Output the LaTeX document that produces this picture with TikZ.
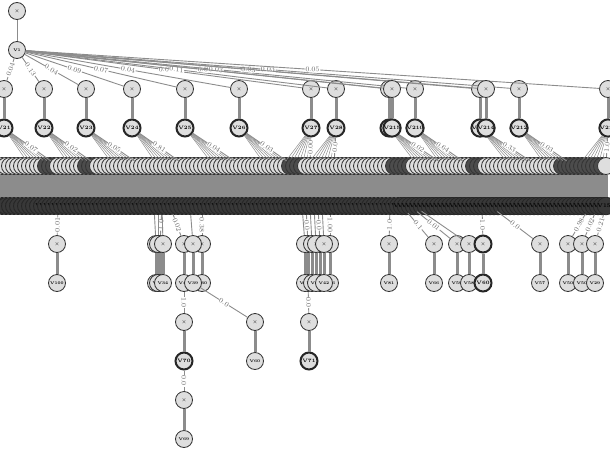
\documentclass[tikz,border=0pt]{standalone}
\usepackage{tikz}
\usetikzlibrary{arrows.meta,positioning,calc}

\begin{document}
\begin{tikzpicture}[
  x=1pt, y=-1pt,
  font=\fontsize{4}{4}\selectfont,
  nd/.style={circle, draw=black!80, fill=black!13, line width=0.8pt, minimum size=17pt, inner sep=0pt},
  dk/.style={nd, draw=black!85, line width=2pt, font=\fontsize{5}{5}\selectfont\bfseries},
  bd/.style={nd, fill=black!70},
  cd/.style={nd, draw=black!85, fill=black!78, font=\fontsize{5.5}{5.5}\selectfont\bfseries},
  ln/.style={draw=black!45, line width=0.9pt},
  tk/.style={draw=black!45, line width=3pt},
  lbl/.style={font=\fontsize{7}{7}\selectfont, text=black!60, fill=white, inner sep=0.6pt, sloped}
]
\useasboundingbox (0,0) rectangle (610,450);

% band of overlapping nodes
\foreach \k in {0,...,151}{
  \pgfmathtruncatemacro\dd{or(or(and(\k>=11,\k<=13),and(\k>=21,\k<=23)),or(or(and(\k>=72,\k<=75),and(\k>=98,\k<=102)),or(and(\k>=118,\k<=120),and(\k>=140,\k<=150))))}
  \ifnum\dd=1
    \node[bd] (b\k) at ({2+4*\k},166) {};
  \else
    \node[nd] (b\k) at ({2+4*\k},166) {};
  \fi
  \node[cd] (c\k) at ({2+4*\k},206) {V\k};
}
\foreach \k in {0,...,151}
  \draw[draw=black!45, line width=4.3pt] (b\k) -- (c\k);

% root
\node[nd] (t) at (17,11) {$\times$};
\node[nd] (a) at (17,50) {\textbf{V1}};
\draw[ln] (t) -- (a);

% first rows
\foreach \xx/\p/\q/\k [count=\i] in {4/0.04/0.07/14, 44/0.13/0.02/24, 86/0.04/0.05/35,
    132/0.09/0.81/46, 185/0.07/0.04/60, 239/0.04/0.03/73, 311/0.0/0.00/77,
    336/0.11/0.0/83, 389/0.0/0.02/111, 415/0.03/0.64/117, 480/0.03/0.33/134,
    519/0.03/0.03/143, 608/0.05/1.0/151}{
  \node[nd] (p\i) at (\xx,89) {$\times$};
  \node[dk] (q\i) at (\xx,128) {V2\i};
  \draw[ln] (a) -- node[lbl] {\p} (p\i);
  \draw[tk] (p\i) -- (q\i);
  \foreach \j in {1,...,7}{
    \pgfmathtruncatemacro\m{\k-\j}
    \draw[draw=black!45, line width=0.5pt] (q\i) -- (b\m);
  }
  \draw[ln] (q\i) -- node[lbl] {\q} (b\k);
}
\node[nd] (p14) at (486,89) {$\times$};
\node[dk] (q14) at (486,128) {V214};
\draw[ln] (a) -- (p14);
\draw[tk] (p14) -- (q14);
\node[nd] (p15) at (392,89) {$\times$};
\node[dk] (q15) at (392,128) {V215};
\draw[ln] (a) -- (p15);
\draw[tk] (p15) -- (q15);

% rows under the band
\foreach \xx/\k/\w/\v [count=\i] in {57/14/0.01/V100, 160/40/1.0/V31, 184/42/0.02/V40,
    202/50/0.38/V30, 308/76/0.0/V48, 320/79/0.0/V47, 330/82/1.00/V46, 389/97/1.0/V81,
    434/100/0.1/V66, 457/102/0.01/V59, 540/122/0.0/V57, 568/147/0.98/V50,
    582/149/0.02/V50, 595/151/0.21/V29}{
  \node[nd] (r\i) at (\xx,244) {$\times$};
  \node[nd] (s\i) at (\xx,283) {\textbf{\v}};
  \draw[ln] (c\k) -- node[lbl] {\w} (r\i);
  \draw[tk] (r\i) -- (s\i);
}
\foreach \xx/\k/\v [count=\i] in {156/38/V33, 158/39/V32, 163/40/V34, 193/47/V39,
    305/75/V45, 312/77/V44, 316/78/V43, 324/80/V42, 469/103/V58}{
  \node[nd] (u\i) at (\xx,244) {$\times$};
  \node[nd] (v\i) at (\xx,283) {\textbf{\v}};
  \draw[ln] (c\k) -- (u\i);
  \draw[tk] (u\i) -- (v\i);
}
\node[dk] (r15) at (483,244) {$\times$};
\node[dk] (s15) at (483,283) {V60};
\draw[ln] (c120) -- node[lbl] {1.0} (r15);
\draw[tk] (r15) -- (s15);

% lower chains
\node[nd] (e1) at (184,322) {$\times$};
\node[nd] (e2) at (255,322) {$\times$};
\node[nd] (e3) at (309,322) {$\times$};
\node[dk] (f1) at (184,361) {V70};
\node[nd] (f2) at (255,361) {\textbf{V60}};
\node[dk] (f3) at (309,361) {V71};
\node[nd] (g1) at (184,400) {$\times$};
\node[nd] (h1) at (184,439) {\textbf{V69}};
\draw[ln] (s3) -- node[lbl] {1.0} (e1);
\draw[ln] (v4) -- node[lbl] {0.0} (e2);
\draw[ln] (s5) -- node[lbl] {0.0} (e3);
\draw[tk] (e1) -- (f1);
\draw[tk] (e2) -- (f2);
\draw[tk] (e3) -- (f3);
\draw[ln] (f1) -- node[lbl] {0.0} (g1);
\draw[tk] (g1) -- (h1);
\end{tikzpicture}
\end{document}
